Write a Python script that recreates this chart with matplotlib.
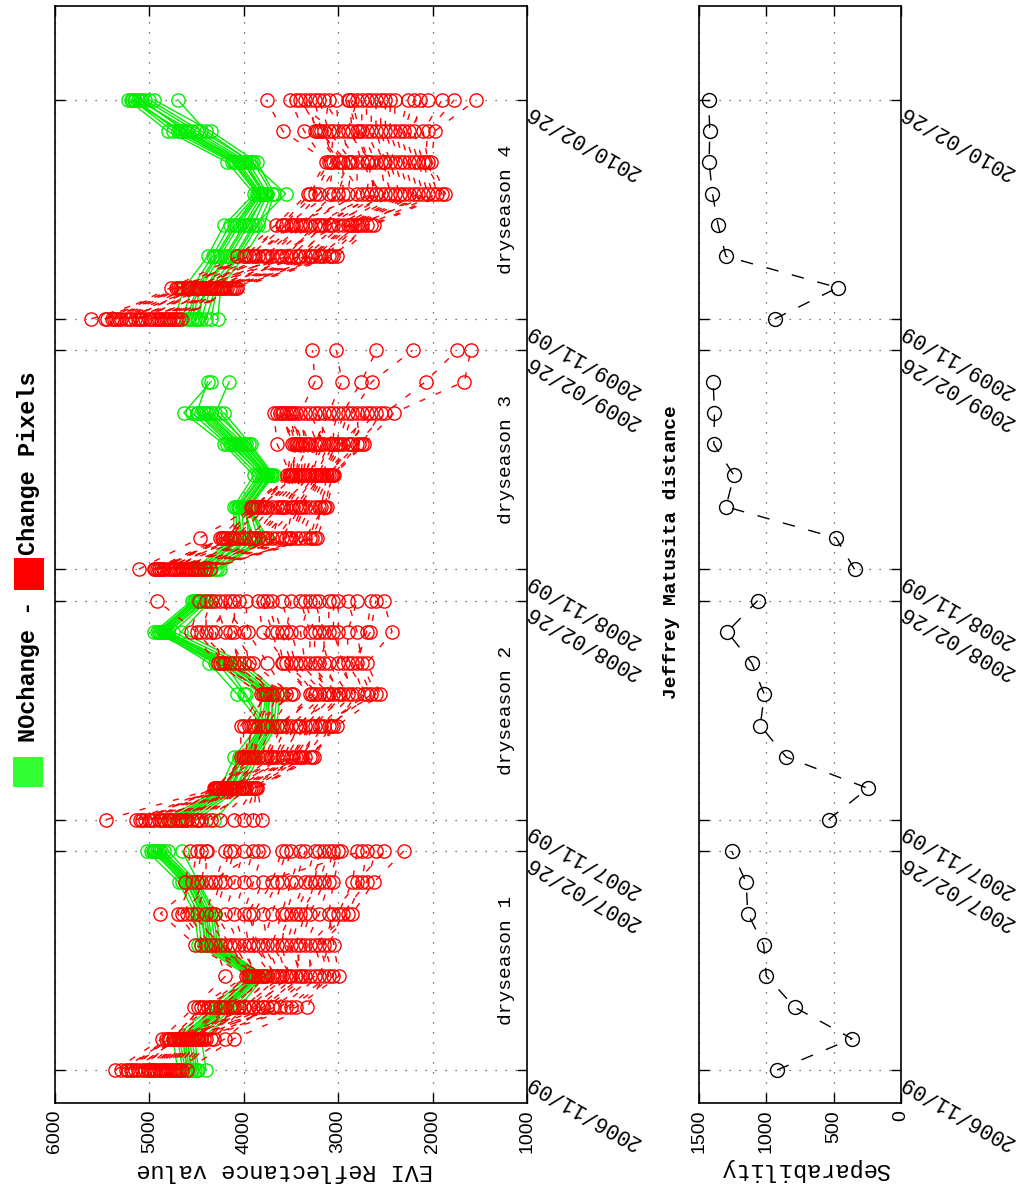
import numpy as np
import matplotlib
matplotlib.use("Agg")
import matplotlib.pyplot as plt
from matplotlib.patches import Rectangle

nan = np.nan

# ---------------- data ----------------
dates = ["2006/11/09", "2007/02/26", "2007/11/09", "2008/02/26",
         "2008/11/09", "2009/02/26", "2009/11/09", "2010/02/26"]
season_names = ["dryseason 1", "dryseason 2", "dryseason 3", "dryseason 4"]
evi_ticks = [6000, 5000, 4000, 3000, 2000, 1000]
sep_ticks = [1500, 1000, 500, 0]
obs_per_season = 8

# NOchange pixels (rows = composites within the season, columns = pixels)
green_s1 = [
    [4650, 4550, 4600, 4500, 4700, 4580, 4520, 4620, 4480, 4560, 4400, 4600],
    [4700, 4600, 4650, 4550, 4750, 4620, 4580, 4680, 4520, 4600, 4450, 4640],
    [4300, 4200, 4250, 4150, 4350, 4220, 4180, 4280, 4100, 4240, 4050, 4200],
    [3900, 3850, 3880, 3820, 3950, 3870, 3840, 3920, 3800, 3860, 3780, 3900],
    [4400, 4350, 4420, 4300, 4480, 4380, 4330, 4450, 4280, 4360, 4250, 4400],
    [4450, 4400, 4430, 4350, 4520, 4420, 4380, 4480, 4320, 4400, 4300, 4460],
    [4600, 4550, 4620, 4520, 4690, 4580, 4540, 4650, 4500, 4570, 4480, 4600],
    [4950, 4900, 4980, 4850, 5025, 4920, 4880, 4960, 4800, 4900, 4654, 4940],
]
green_s2 = [
    [4800, 4700, 4750, 4600, 4840, 4650, 4550, 4780, 4500, 4680, 4313, 4720],
    [4200, 4150, 4180, 4100, 4250, 4120, 4080, 4220, 4050, 4160, 4000, 4200],
    [4050, 3950, 4000, 3900, 4102, 3980, 3920, 4030, 3880, 3960, 3850, 4010],
    [3800, 3750, 3780, 3700, 3850, 3760, 3720, 3820, 3680, 3740, 3650, 3790],
    [4067, 3980, 3750, 3700, 3800, 3720, 3680, 3760, 3650, 3740, 3620, 4000],
    [4366, 4200, 4250, 4150, 4300, 4180, 4100, 4220, 4050, 4160, 4000, 4280],
    [4900, 4850, 4880, 4800, 4947, 4860, 4820, 4920, 4750, 4840, 4665, 4900],
    [4525, 4450, 4500, 4400, 4550, 4480, 4420, 4520, 4380, 4460, 4350, 4500],
]
green_s3 = [
    [4500, 4400, 4450, 4350, 4530, 4420, 4300, 4480, 4250, 4380, 4280, 4460],
    [4050, 3950, 4000, 3850, 4106, 3900, 3800, 4080, 3753, 3920, 3780, 4020],
    [4050, 3980, 4020, 3950, 4106, 4000, 3929, 4080, 3940, 4000, 3960, 4060],
    [3800, 3750, 3780, 3720, 3894, 3760, 3700, 3850, 3682, 3740, 3710, 3820],
    [4150, 4050, 4100, 4000, 4212, 4080, 3950, 4180, 3929, 4030, 3980, 4120],
    [4500, 4400, 4450, 4350, 4636, 4420, 4300, 4550, 4212, 4380, 4250, 4480],
    [4383, nan, nan, nan, 4345, nan, 4155, nan, nan, nan, nan, nan],
    [nan, nan, nan, nan, nan, nan, nan, nan, nan, nan, nan, nan],
]
green_s4 = [
    [4600, 4500, 4550, 4450, 4736, 4480, 4400, 4650, 4278, 4520, 4350, 4580],
    [4500, 4400, 4450, 4350, 4630, 4420, 4300, 4550, 4243, 4380, 4280, 4480],
    [4300, 4200, 4250, 4100, 4384, 4150, 4050, 4330, 4000, 4180, 4080, 4280],
    [4100, 4000, 4050, 3900, 4208, 3950, 3850, 4150, 3785, 3980, 3880, 4080],
    [3850, 3800, 3820, 3750, 3890, 3780, 3700, 3860, 3680, 3760, 3556, 3830],
    [4100, 4000, 4050, 3950, 4173, 3980, 3900, 4120, 3856, 4020, 3920, 4080],
    [4700, 4600, 4650, 4500, 4806, 4550, 4450, 4750, 4349, 4620, 4400, 4680],
    [5150, 5100, 5200, 5050, 5229, 5120, 5000, 5180, 4950, 5080, 4700, 5160],
]

# Change pixels
red_s1 = [
    [5360, 4950, 5180, 4700, 5080, 4880, 5250, 4780, 5020, 4650, 5300, 4900, 4820, 5120, 4740,
     4980, 5200, 4860, 4600, 5050, 4930, 4760, 5150, 4840, 4680, 5000, 4800, 5230, 4720, 4960],
    [4866, 4600, 4700, 4400, 4750, 4550, 4820, 4480, 4650, 4320, 4780, 4580, 4500, 4720, 4450,
     4620, 4800, 4530, 4106, 4680, 4560, 4420, 4740, 4510, 4350, 4640, 4470, 4790, 4200, 4590],
    [4530, 3900, 4300, 3700, 4450, 4100, 3550, 4200, 3800, 4000, 4380, 3620, 4150, 3950, 3450,
     4250, 3850, 4050, 3330, 4480, 3750, 4000, 4350, 3680, 4120, 3900, 3500, 4420, 3800, 4220],
    [4194, 3500, 3900, 3300, 3800, 3650, 3100, 3880, 3400, 3600, 3950, 3200, 3750, 3550, 2993,
     3850, 3450, 3700, 3150, 3980, 3350, 3620, 3920, 3250, 3780, 3520, 3050, 3960, 3380, 3680],
    [4300, 3700, 4100, 3300, 4450, 3900, 3200, 4000, 3500, 3800, 4200, 3100, 4350, 3650, 3046,
     4050, 3400, 3950, 3250, 4512, 3550, 3750, 4150, 3350, 4250, 3600, 3150, 4400, 3450, 3850],
    [4500, 3600, 4300, 3000, 4700, 3900, 2850, 4100, 3400, 3700, 4400, 2950, 4600, 3500, 3100,
     4200, 3300, 4000, 2900, 4883, 3450, 3800, 4350, 3200, 4550, 3550, 3050, 4650, 3350, 3950],
    [4400, 3500, 4200, 2850, 4550, 3700, 2622, 4000, 3200, 3600, 4300, 2700, 4618, 3350, 3050,
     4100, 3150, 3900, 2750, 4500, 3300, 3650, 4250, 3100, 4450, 3450, 2800, 4350, 3250, 3800],
    [4400, 3400, 4100, 2800, 4500, 3600, 2304, 3900, 3100, 3500, 4200, 2600, 4565, 3250, 2975,
     4000, 3050, 3800, 2700, 4450, 3150, 3550, 4150, 3000, 4390, 3350, 2515, 3850, 3200, 2750],
]
red_s2 = [
    [5458, 4700, 5100, 4400, 4900, 4600, 3900, 5000, 4500, 4800, 5140, 4250, 4950, 4650, 3803,
     4850, 4450, 4750, 4100, 5050, 4550, 4680, 4980, 4350, 4880, 4620, 4000, 5080, 4480, 4780],
    [4300, 4100, 4250, 3950, 4200, 4150, 3870, 4280, 4050, 4180, 4313, 3920, 4230, 4120, 3856,
     4260, 4000, 4160, 3900, 4290, 4080, 4140, 4270, 3980, 4220, 4100, 3880, 4300, 4020, 4190],
    [4000, 3600, 3900, 3400, 4032, 3700, 3300, 3850, 3500, 3750, 3950, 3350, 3980, 3650, 3257,
     3800, 3450, 3720, 3380, 4010, 3550, 3680, 3920, 3420, 3880, 3580, 3280, 3960, 3480, 3780],
    [3900, 3400, 3800, 3150, 4032, 3550, 3010, 3700, 3300, 3600, 3850, 3100, 3950, 3450, 3050,
     3750, 3250, 3650, 3200, 4000, 3350, 3500, 3780, 3180, 3880, 3420, 3080, 3920, 3280, 3620],
    [3800, 3100, 3600, 2700, 3820, 3300, 2553, 3500, 2900, 3250, 3700, 2650, 3780, 3000, 2800,
     3550, 2950, 3200, 2600, 3750, 3050, 3150, 3650, 2850, 3720, 3120, 2730, 3480, 2980, 3280],
    [4200, 3400, 4000, 2900, 4278, 3600, 2694, 3900, 3100, 3500, 4100, 2800, 4250, 3300, 3000,
     3750, 3200, 3550, 2750, 4150, 3350, 3450, 4050, 2950, 3950, 3250, 2850, 4220, 3150, 3580],
    [4500, 3500, 4200, 2900, 4560, 3700, 2430, 4100, 3200, 3600, 4400, 2700, 4300, 3300, 3000,
     3960, 3100, 3800, 2800, 4450, 3400, 3550, 4150, 3050, 4000, 3250, 2658, 4350, 3150, 3650],
    [4919, 3600, 4300, 2800, 4472, 3800, 2518, 4100, 3200, 3700, 4400, 2650, 4200, 3400, 3000,
     3979, 3100, 3850, 2900, 4350, 3300, 3500, 4050, 3050, 4250, 3350, 2600, 4150, 3250, 3750],
]
red_s3 = [
    [5113, 4700, 4900, 4500, 4954, 4650, 4400, 4850, 4600, 4750, 4920, 4450, 4880, 4620, 4353,
     4800, 4550, 4720, 4480, 4940, 4580, 4680, 4860, 4520, 4780, 4640, 4420, 4900, 4560, 4740],
    [4466, 3800, 4200, 3400, 4247, 3700, 3223, 4100, 3600, 3900, 4150, 3300, 4220, 3750, 3350,
     4000, 3500, 3850, 3250, 4180, 3650, 3950, 4050, 3450, 4120, 3550, 3280, 4230, 3520, 3880],
    [3900, 3500, 3800, 3250, 3929, 3600, 3117, 3750, 3400, 3650, 3850, 3200, 3880, 3450, 3150,
     3700, 3350, 3550, 3180, 3910, 3420, 3620, 3780, 3300, 3820, 3480, 3140, 3860, 3380, 3580],
    [3500, 3250, 3450, 3100, 3541, 3300, 3046, 3400, 3200, 3350, 3480, 3080, 3520, 3220, 3060,
     3380, 3150, 3320, 3120, 3510, 3180, 3280, 3430, 3130, 3460, 3240, 3070, 3490, 3170, 3360],
    [3647, 3100, 3400, 2850, 3488, 3200, 2728, 3350, 3000, 3250, 3450, 2900, 3420, 3050, 2780,
     3300, 2950, 3150, 2800, 3470, 3020, 3180, 3380, 2880, 3320, 3080, 2750, 3440, 2980, 3220],
    [3682, 3000, 3500, 2700, 3600, 3200, 2410, 3400, 2900, 3100, 3550, 2600, 3650, 3050, 2800,
     3450, 2850, 3300, 2500, 3620, 2950, 3150, 3480, 2750, 3580, 3250, 2550, 3520, 2650, 3350],
    [nan, nan, nan, nan, nan, nan, 1663, 3246, nan, 2962, nan, nan, nan, nan, nan,
     nan, 2640, nan, 2072, nan, 2754, nan, nan, nan, nan, nan, nan, nan, nan, nan],
    [nan, nan, nan, nan, nan, nan, 1595, 3273, nan, 3019, nan, nan, nan, nan, nan,
     nan, 2212, nan, 1742, nan, 2595, nan, nan, nan, nan, nan, nan, nan, nan, nan],
]
red_s4 = [
    [5616, 5000, 5300, 4800, 5475, 5100, 4700, 5200, 4900, 5050, 5400, 4750, 5350, 4950, 4665,
     5250, 4850, 5150, 4780, 5450, 4920, 5080, 5320, 4820, 5220, 4980, 4720, 5380, 4880, 5120],
    [4600, 4300, 4500, 4150, 4771, 4400, 4067, 4550, 4250, 4450, 4700, 4100, 4650, 4350, 4120,
     4480, 4200, 4420, 4180, 4720, 4280, 4380, 4580, 4220, 4520, 4320, 4080, 4680, 4230, 4460],
    [4000, 3400, 3800, 3100, 4067, 3500, 3010, 3700, 3300, 3600, 3900, 3200, 3950, 3450, 3050,
     3750, 3250, 3550, 3150, 3980, 3350, 3650, 3850, 3180, 3780, 3420, 3080, 3880, 3280, 3620],
    [3600, 3000, 3400, 2750, 3663, 3150, 2623, 3300, 2900, 3200, 3500, 2800, 3550, 3050, 2700,
     3350, 2850, 3250, 2780, 3580, 2950, 3100, 3450, 2820, 3380, 3080, 2650, 3480, 2880, 3180],
    [3300, 2400, 3000, 2100, 3322, 2600, 1864, 2900, 2300, 2700, 3200, 2000, 3100, 2500, 1950,
     2800, 2200, 2650, 2050, 3250, 2350, 2550, 2950, 2150, 3050, 2450, 1900, 2750, 2250, 2600],
    [3100, 2500, 2900, 2200, 3133, 2700, 2015, 2850, 2400, 2650, 3000, 2100, 3050, 2550, 2050,
     2800, 2300, 2600, 2150, 3080, 2450, 2750, 2950, 2250, 2880, 2520, 2080, 2980, 2350, 2680],
    [3587, 2600, 3200, 2300, 3360, 2800, 1977, 3100, 2500, 2900, 3246, 2200, 3150, 2700, 2100,
     3000, 2400, 2750, 2250, 3050, 2550, 2850, 3180, 2350, 2950, 2650, 2050, 3220, 2450, 2780],
    [3758, 2600, 3400, 2200, 3510, 2900, 1542, 3200, 2500, 2800, 3300, 2130, 3100, 2700, 1900,
     3019, 2400, 2750, 2050, 3450, 2550, 2886, 3250, 2262, 3150, 2650, 1770, 3350, 2450, 2850],
]

# Jeffrey Matusita separability per composite
sep_s1 = [920, 363, 788, 1000, 1020, 1138, 1150, 1258]
sep_s2 = [538, 245, 852, 1045, 1015, 1108, 1290, 1065]
sep_s3 = [345, 482, 1300, 1240, 1390, 1385, 1395, nan]
sep_s4 = [938, 470, 1300, 1358, 1400, 1425, 1420, 1428]

greens = [green_s1, green_s2, green_s3, green_s4]
reds = [red_s1, red_s2, red_s3, red_s4]
seps = [sep_s1, sep_s2, sep_s3, sep_s4]

# ---------------- styling ----------------
MONO = "Liberation Mono"
SANS = "Liberation Sans"
GREEN = "#00ee00"
RED = "#ff0000"
W, H = 1032, 1184

fig = plt.figure(figsize=(W / 100, H / 100), dpi=100)
fig.patch.set_facecolor("white")


def fx(px):
    return px / W


def fy(py):
    return (H - py) / H


ax_top, ax_bot = 6, 1103
ax1 = fig.add_axes([fx(55), fy(ax_bot), fx(527) - fx(55), fy(ax_top) - fy(ax_bot)])
ax2 = fig.add_axes([fx(699), fy(ax_bot), fx(901) - fx(699), fy(ax_top) - fy(ax_bot)])

# time positions (composite index along the concatenated seasons)
tick_pos = []
for s in range(4):
    tick_pos += [s * obs_per_season, s * obs_per_season + obs_per_season - 1]

grid_style = dict(color="0.3", linestyle=(0, (1, 7)), linewidth=0.9)

for ax in (ax1, ax2):
    ax.set_ylim(-1.055, 34.0)
    ax.set_yticks(tick_pos)
    ax.set_yticklabels(dates)
    ax.grid(True, **grid_style)
    ax.set_axisbelow(True)
    for sp in ax.spines.values():
        sp.set_linewidth(1.2)
    ax.tick_params(axis="both", direction="in", length=7, width=1.0,
                   top=True, bottom=True, left=True, right=True,
                   labelleft=False, labelright=True, labelbottom=True, labeltop=False)
    ax.tick_params(axis="y", pad=4)
    ax.tick_params(axis="x", pad=5)
    for lab in ax.get_yticklabels():
        lab.set_rotation(150)
        lab.set_rotation_mode("anchor")
        lab.set_ha("right")
        lab.set_va("bottom")
        lab.set_fontfamily(MONO)
        lab.set_fontsize(15.5)

# ---- EVI panel ----
ax1.set_xlim(6000, 1000)
ax1.set_xticks(evi_ticks)
ax1.set_xticklabels([str(v) for v in evi_ticks], rotation=90, fontfamily=SANS, fontsize=14)

for s in range(4):
    t = np.arange(obs_per_season) + s * obs_per_season
    G = np.array(greens[s], dtype=float)
    for j in range(G.shape[1]):
        ax1.plot(G[:, j], t, color=GREEN, lw=1.0, marker="o", ms=9.5,
                 mfc="none", mec=GREEN, mew=1.0, zorder=3)
for s in range(4):
    t = np.arange(obs_per_season) + s * obs_per_season
    R = np.array(reds[s], dtype=float)
    for j in range(R.shape[1]):
        ax1.plot(R[:, j], t, color=RED, lw=1.0, ls=(0, (4.5, 8)), marker="o", ms=9.5,
                 mfc="none", mec=RED, mew=1.0, zorder=4)
    ax1.text(1220, s * obs_per_season + 3.5, season_names[s], rotation=90,
             ha="center", va="center", fontfamily=MONO, fontsize=14, zorder=5)

# ---- Separability panel ----
ax2.set_xlim(1500, 0)
ax2.set_xticks(sep_ticks)
ax2.set_xticklabels([str(v) for v in sep_ticks], rotation=90, fontfamily=SANS, fontsize=14)
for s in range(4):
    t = np.arange(obs_per_season) + s * obs_per_season
    ax2.plot(seps[s], t, color="black", lw=1.0, ls=(0, (9, 10)), marker="o", ms=10,
             mfc="none", mec="black", mew=1.0, zorder=3)

# ---- labels ----
fig.text(fx(285), fy(1170), "EVI Reflectance value", rotation=180, ha="center", va="center",
         fontfamily=MONO, fontsize=17)
fig.text(fx(805), fy(1170), "Separability", rotation=180, ha="center", va="center",
         fontfamily=MONO, fontsize=17)
fig.text(fx(672), fy(552), "Jeffrey Matusita distance", rotation=90, ha="center", va="center",
         fontfamily=MONO, fontweight="bold", fontsize=14)

# title with colour keys
fig.patches.append(Rectangle((fx(13), fy(787)), fx(30), fy(757) - fy(787),
                             transform=fig.transFigure, facecolor="#33ff33", edgecolor="none"))
fig.patches.append(Rectangle((fx(14), fy(590)), fx(30), fy(558) - fy(590),
                             transform=fig.transFigure, facecolor=RED, edgecolor="none"))
fig.text(fx(28), fy(742), "NOchange -", rotation=90, rotation_mode="anchor", ha="left",
         va="center", fontfamily=MONO, fontweight="bold", fontsize=17)
fig.text(fx(28), fy(555), "Change Pixels", rotation=90, rotation_mode="anchor", ha="left",
         va="center", fontfamily=MONO, fontweight="bold", fontsize=17)

fig.savefig("out.png", dpi=100, facecolor="white")
